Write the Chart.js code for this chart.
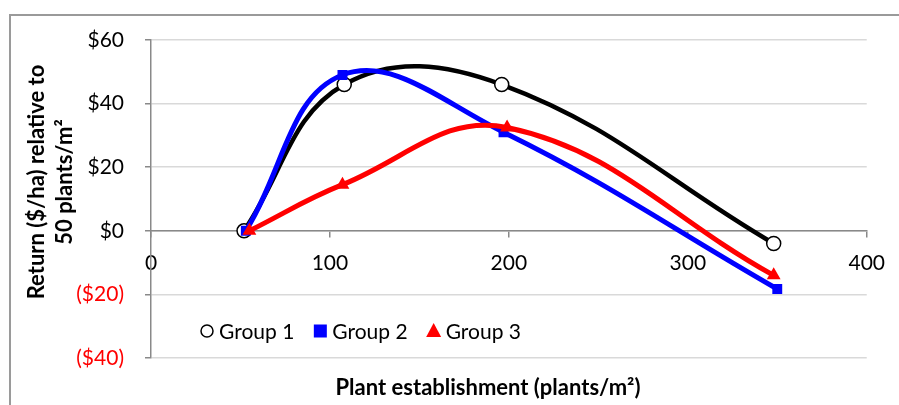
<!DOCTYPE html>
<html>
<head>
<meta charset="utf-8">
<script src="https://cdn.jsdelivr.net/npm/chart.js@4.4.1/dist/chart.umd.min.js"></script>
<style>
  html, body { margin: 0; padding: 0; background: #fff; }
  #wrap { position: relative; width: 899px; height: 405px; overflow: hidden; }
  #frame { position: absolute; left: 9px; top: 14px; width: 1000px; height: 500px;
           border-left: 2px solid #9a9a9a; border-top: 2px solid #9a9a9a; box-sizing: border-box; }
  canvas { position: absolute; left: 0; top: 0; }
</style>
</head>
<body>
<div id="wrap">
  <div id="frame"></div>
  <canvas id="chart" width="899" height="405"></canvas>
</div>
<script>
// Series (x = plants/m², y = $/ha)
const seriesNames = ['Group 1', 'Group 2', 'Group 3'];
const group1X = [52, 108, 196, 348];
const group1Y = [0, 46, 46, -4];
const group2X = [53, 107, 197, 350];
const group2Y = [0, 49, 31, -18.3];
const group3X = [55, 107, 199, 348];
const group3Y = [0, 14.5, 32.5, -14];

const xMin = 0, xMax = 400, xStep = 100;
const yMin = -40, yMax = 60, yStep = 20;

const yTitle = ['Return ($/ha) relative to', '50 plants/m\u00b2'];
const xTitle = 'Plant establishment (plants/m\u00b2)';

const FONT = 'Lato, "Open Sans", sans-serif';

function toPoints(xs, ys) {
    return xs.map((x, i) => ({ x: x, y: ys[i] }));
}

// Titles and the legend inside the plot
const extrasPlugin = {
    id: 'extras',
    afterDraw(chart) {
        const ctx = chart.ctx;
        const area = chart.chartArea;
        ctx.save();
        ctx.fillStyle = '#000';
        ctx.font = 'bold 22px ' + FONT;
        ctx.textAlign = 'center';
        ctx.textBaseline = 'middle';

        // y title, two lines, rotated
        ctx.save();
        ctx.translate(37, 182);
        ctx.rotate(-Math.PI / 2);
        ctx.fillText(yTitle[0], 0, 0);
        ctx.fillText(yTitle[1], 0, 28);
        ctx.restore();

        // x title
        ctx.fillText(xTitle, 488, 388);

        // legend
        ctx.font = '21px ' + FONT;
        ctx.textAlign = 'left';
        const ly = area.top + 291;
        let lx = area.left + 56;
        chart.data.datasets.forEach((ds, i) => {
            ctx.beginPath();
            if (ds.pointStyle === 'circle') {
                ctx.arc(lx, ly, 6, 0, Math.PI * 2);
                ctx.fillStyle = '#fff';
                ctx.fill();
                ctx.lineWidth = 1.5;
                ctx.strokeStyle = '#000';
                ctx.stroke();
            } else if (ds.pointStyle === 'rect') {
                ctx.fillStyle = ds.pointBackgroundColor;
                ctx.fillRect(lx - 6.5, ly - 6.5, 13, 13);
            } else {
                ctx.moveTo(lx, ly - 8);
                ctx.lineTo(lx + 7.5, ly + 6);
                ctx.lineTo(lx - 7.5, ly + 6);
                ctx.closePath();
                ctx.fillStyle = ds.pointBackgroundColor;
                ctx.fill();
            }
            ctx.fillStyle = '#000';
            ctx.fillText(ds.label, lx + 12, ly + 1);
            lx += ctx.measureText(ds.label).width + 38;
        });
        ctx.restore();
    }
};

new Chart(document.getElementById('chart').getContext('2d'), {
    type: 'scatter',
    data: {
        datasets: [
            {
                label: seriesNames[0],
                data: toPoints(group1X, group1Y),
                showLine: true,
                borderColor: '#000000',
                borderWidth: 4.5,
                pointStyle: 'circle',
                pointRadius: 7,
                pointBorderWidth: 1.5,
                pointBorderColor: '#000000',
                pointBackgroundColor: '#ffffff',
                order: 2
            },
            {
                label: seriesNames[1],
                data: toPoints(group2X, group2Y),
                showLine: true,
                borderColor: '#0000ff',
                borderWidth: 5,
                pointStyle: 'rect',
                pointRadius: 7,
                pointBorderWidth: 0,
                pointBackgroundColor: '#0000ff',
                order: 1
            },
            {
                label: seriesNames[2],
                data: toPoints(group3X, group3Y),
                showLine: true,
                borderColor: '#ff0000',
                borderWidth: 5,
                pointStyle: 'triangle',
                pointRadius: 8,
                pointBorderWidth: 0,
                pointBackgroundColor: '#ff0000',
                order: 0
            }
        ]
    },
    options: {
        responsive: false,
        animation: false,
        layout: { padding: { left: 0, right: 30, top: 40, bottom: 47 } },
        elements: { line: { tension: 0.4 } },
        plugins: {
            legend: { display: false },
            tooltip: { enabled: false }
        },
        scales: {
            x: {
                type: 'linear',
                position: { y: 0 },
                min: xMin,
                max: xMax,
                ticks: {
                    stepSize: xStep,
                    color: '#000',
                    font: { family: FONT, size: 21 },
                    padding: 14,
                    maxRotation: 0
                },
                grid: {
                    drawOnChartArea: false,
                    tickLength: 6,
                    tickColor: '#898989',
                    lineWidth: 1.5
                },
                border: { color: '#898989', width: 1.5 }
            },
            y: {
                type: 'linear',
                min: yMin,
                max: yMax,
                afterFit(scale) { scale.width = 151; },
                ticks: {
                    stepSize: yStep,
                    padding: 21,
                    font: { family: FONT, size: 21 },
                    color: ctx => ctx.tick && ctx.tick.value < 0 ? '#ff0000' : '#000000',
                    callback: v => v < 0 ? '($' + (-v) + ')' : '$' + v
                },
                grid: {
                    color: '#d9d9d9',
                    lineWidth: 1.5,
                    tickLength: 6,
                    tickColor: '#898989'
                },
                border: { color: '#898989', width: 1.5 }
            }
        }
    },
    plugins: [extrasPlugin]
});
</script>
</body>
</html>
